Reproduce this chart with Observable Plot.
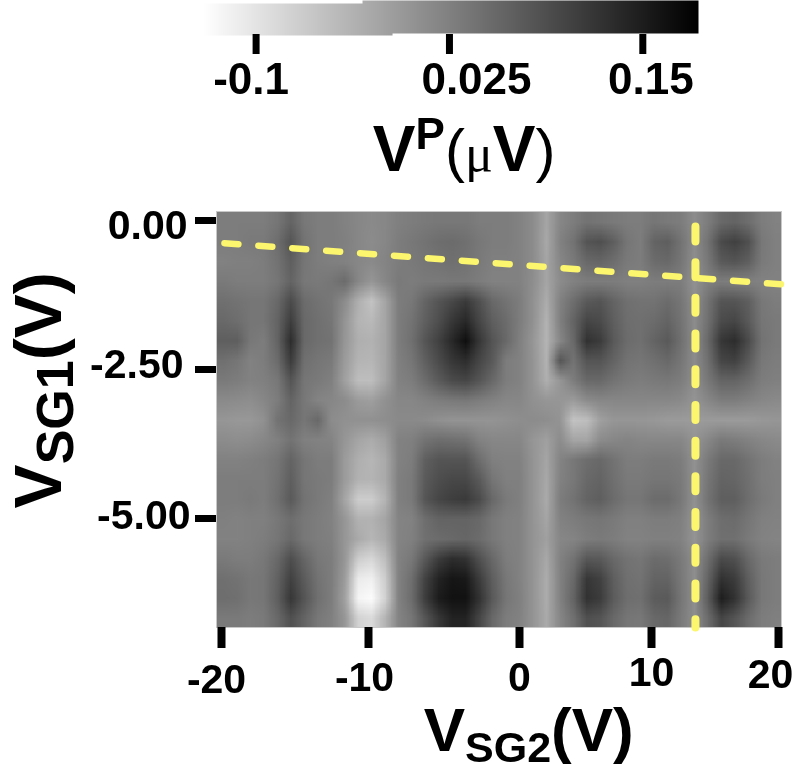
<!DOCTYPE html>
<html>
<head>
<meta charset="utf-8">
<script src="https://cdn.jsdelivr.net/npm/d3@7"></script>
<script src="https://cdn.jsdelivr.net/npm/@observablehq/plot@0.6"></script>
<style>
html,body{margin:0;padding:0;background:#fff;}
svg{display:block;filter:blur(0.55px);}
</style>
</head>
<body>
<div id="chart"></div>
<script>
// Values
const gridColumns = 42;
const vpThousandths = [
[29,29,29,29,38,60,35,29,29,23,17,13,17,25,29,33,35,35,35,29,29,29,23,10,-21,17,29,42,38,33,29,29,38,33,29,10,29,54,60,48,29,23],
[29,29,33,33,48,79,42,29,29,25,17,10,17,29,35,42,48,50,45,35,29,29,23,10,-25,23,42,79,86,67,38,29,60,67,42,10,42,92,104,86,35,25],
[23,25,25,29,42,67,38,29,25,23,17,13,20,29,33,38,42,45,42,33,25,25,23,10,-21,17,33,54,58,48,33,29,50,54,38,8,35,73,79,67,33,25],
[33,29,29,29,38,60,35,33,38,50,17,-2,17,33,29,33,33,35,35,29,23,23,23,8,-21,10,23,29,29,29,25,25,29,29,29,4,25,29,25,25,23,23],
[45,42,38,38,54,92,50,42,35,10,-34,-59,-21,29,35,60,79,96,113,86,54,42,29,4,-30,23,48,73,79,60,45,42,42,50,38,8,42,79,79,67,35,29],
[54,48,38,38,60,108,54,45,38,0,-40,-46,-21,29,42,67,88,117,136,98,67,50,29,4,-37,25,60,98,92,67,48,45,50,60,42,10,45,92,98,73,38,33],
[67,67,35,29,60,130,54,45,42,-2,-34,-37,-21,29,45,79,104,136,167,117,79,54,25,-2,-40,17,54,123,111,73,50,45,60,73,45,10,54,117,130,92,42,33],
[45,38,23,29,50,111,45,38,33,-9,-40,-42,-21,25,38,67,92,117,130,98,73,29,23,0,-37,79,42,79,79,60,42,38,45,54,38,10,45,98,104,73,35,29],
[33,29,23,25,35,79,38,33,25,-15,-52,-52,-21,23,29,50,73,92,98,79,54,29,23,0,-34,-2,29,54,54,42,33,29,33,35,29,8,35,60,60,48,29,25],
[13,10,8,17,29,60,35,20,17,10,-9,-13,4,17,17,23,29,33,35,29,23,17,17,4,-2,-2,-9,10,17,17,17,17,17,17,13,0,17,29,29,23,17,13],
[-2,-5,-5,4,42,54,38,54,10,4,4,4,8,13,13,10,4,0,0,0,0,4,8,10,8,0,-59,-52,-15,-2,-2,-2,-5,-9,-9,-9,-9,-9,-9,-9,-5,-2],
[10,8,10,17,25,42,25,23,20,-2,-21,-30,-15,23,25,42,48,45,42,23,17,17,17,-2,-15,10,-21,-21,10,17,20,17,17,17,17,0,17,33,29,23,17,13],
[23,23,25,29,38,60,38,29,29,-9,-34,-42,-27,23,29,67,79,79,79,48,25,23,23,0,-21,20,35,48,54,42,29,29,33,33,29,4,33,54,54,42,29,23],
[29,29,29,29,42,67,38,33,29,-9,-37,-40,-27,25,33,73,88,96,96,73,38,25,25,0,-25,23,35,54,60,45,33,33,38,38,33,4,38,60,58,45,29,25],
[29,29,33,29,45,73,42,33,25,-21,-71,-71,-40,25,33,79,98,108,113,92,54,33,25,0,-27,29,42,60,67,50,38,38,50,50,35,4,42,67,67,48,33,25],
[25,23,25,25,35,48,35,29,23,-2,-37,-37,-21,20,23,48,60,60,60,54,35,25,23,0,-21,23,29,35,38,33,25,25,29,29,25,0,29,48,50,38,25,23],
[23,23,25,29,38,54,35,29,25,-2,-27,-42,-27,20,25,45,50,54,58,50,35,25,23,0,-15,17,20,29,33,29,23,23,25,25,23,0,29,45,45,33,23,20],
[33,29,29,35,54,88,58,35,29,-2,-71,-84,-52,23,35,76,111,130,123,86,54,29,23,0,-25,23,42,76,73,54,42,38,50,48,33,8,48,92,86,54,33,29],
[45,42,35,38,63,104,71,42,29,-9,-109,-115,-71,23,48,104,142,158,155,111,67,35,23,0,-30,23,54,117,104,67,45,42,60,60,35,8,60,123,111,67,35,29],
[48,45,35,38,67,117,79,45,29,-15,-121,-130,-78,23,50,111,151,163,163,123,73,38,25,0,-30,23,60,123,111,71,48,45,71,73,38,8,71,148,123,73,35,29],
[33,33,29,33,54,86,60,35,25,-2,-78,-88,-40,20,38,79,117,142,142,98,54,29,23,0,-27,17,45,86,79,54,38,35,54,58,33,8,50,98,79,50,29,25]
];
const xTicks = [-20, -10, 0, 10, 20];
const xTickLabels = ["-20", "-10", "0", "10", "20"];
const yTicks = [0, -2.5, -5];
const yTickLabels = ["0.00", "-2.50", "-5.00"];
const barTicks = [-0.1, 0.025, 0.15];
const barTickLabels = ["-0.1", "0.025", "0.15"];
const verticalCut = [{x: 13.46, y: -0.1}, {x: 13.46, y: -6.83}];
const slantedCut = [{x: -19.8, y: -0.38}, {x: 20.24, y: -1.07}];

// Layout and style
const FONT = "Liberation Sans";
const BAR_H = 190, W = 798, H = 581;
const vpRange = [-0.134, 0.186];
const color = {type: "linear", domain: vpRange, range: ["#ffffff", "#000000"]};
const xNudge = [[-5, 2], [-4, 0], [0, 0], [0, -5], [-8, -3]];
const yNudge = [[-7, 5], [-11, -5], [-4, -3]];
const barNudge = [[-5, 0], [27, 0], [8, 0]];
const axisFont = {fontFamily: FONT, fontWeight: "bold", fontSize: 41, fill: "black"};
// the printed x axis has unevenly spaced ticks: a piecewise map sits in front of the x scale
const xPosition = d3.scaleLinear().domain(xTicks).range([221, 368, 519, 651, 778]);
const xEnds = [-20.34, 20.24];

function richText(parts) {
  return function (index, scales, values, dims, ctx, next) {
    const g = next(index, scales, values, dims, ctx);
    const t = g.querySelector("text");
    t.textContent = "";
    let prev = 0;
    for (const p of parts) {
      const ts = document.createElementNS("http://www.w3.org/2000/svg", "tspan");
      ts.textContent = p.text;
      ts.setAttribute("font-size", p.size);
      ts.setAttribute("font-weight", p.weight || "bold");
      ts.setAttribute("font-family", p.family || FONT);
      ts.setAttribute("dy", (p.shift || 0) - prev);
      prev = p.shift || 0;
      t.append(ts);
    }
    return g;
  };
}

const barPlot = Plot.plot({
  width: W, height: BAR_H,
  marginLeft: 203, marginRight: 100, marginTop: 0, marginBottom: 156,
  x: {domain: vpRange, range: [203, 698], axis: null},
  y: {domain: [0, BAR_H], range: [0, BAR_H], axis: null},
  color,
  marks: [
    Plot.raster({x1: vpRange[0], x2: -0.0118, y1: 3, y2: 35, fill: (x) => x, pixelSize: 1, imageRendering: "auto"}),
    Plot.raster({x1: -0.0312, x2: vpRange[1], y1: 0, y2: 33, fill: (x) => x, pixelSize: 1, imageRendering: "auto"}),
    Plot.axisX(barTicks, {tickSize: 20, strokeWidth: 7, stroke: "black", text: null, label: null}),
    ...barTicks.map((t, i) => Plot.axisX([t], {
      tickSize: 0, tickPadding: 28, label: null, dx: barNudge[i][0], dy: barNudge[i][1],
      tickFormat: () => barTickLabels[i], ...axisFont, fontSize: 44
    })),
    Plot.text(["VP(µV)"], {
      x: () => 0.0345, y: () => 170, textAnchor: "middle", lineAnchor: "bottom",
      fontFamily: FONT, fontWeight: "bold", fill: "black",
      render: richText([
        {text: "V", size: 64},
        {text: "P", size: 44, shift: -22},
        {text: "(", size: 60, weight: "normal"},
        {text: "\u03bc", size: 52, weight: "normal", family: "Liberation Serif"},
        {text: "V", size: 64},
        {text: ")", size: 60, weight: "normal"}
      ])
    })
  ]
});

const mainPlot = Plot.plot({
  width: W, height: H,
  marginLeft: 216, marginRight: 17, marginTop: 21, marginBottom: 144,
  x: {domain: xEnds.map(xPosition), range: xEnds.map(xPosition), axis: null},
  y: {domain: [0, -5], range: [30, 328], axis: null},
  color,
  marks: [
    Plot.raster(vpThousandths.flat().map((v) => v / 1000), {
      width: gridColumns, height: vpThousandths.length, fill: Plot.identity,
      x1: xPosition(xEnds[0]), x2: xPosition(xEnds[1]), y1: 0.15, y2: -6.83, imageRendering: "auto"
    }),
    Plot.frame({stroke: "#c8c8c8", strokeWidth: 1}),
    Plot.line(slantedCut, {x: (d) => xPosition(d.x), y: "y", stroke: "#fbf66e", strokeWidth: 6.5, strokeDasharray: "14 20"}),
    Plot.line(verticalCut, {x: (d) => xPosition(d.x), y: "y", stroke: "#fbf66e", strokeWidth: 8, strokeDasharray: "15 20.7"}),
    Plot.axisX(xTicks.map(xPosition), {tickSize: 21, strokeWidth: 8, stroke: "black", text: null, label: null}),
    ...xTicks.map((t, i) => Plot.axisX([xPosition(t)], {
      tickSize: 0, tickPadding: 34, label: null, dx: xNudge[i][0], dy: xNudge[i][1],
      tickFormat: () => xTickLabels[i], ...axisFont
    })),
    Plot.axisY(yTicks, {tickSize: 21, strokeWidth: 7, stroke: "black", text: null, label: null}),
    ...yTicks.map((t, i) => Plot.axisY([t], {
      tickSize: 0, tickPadding: 22, label: null, dx: yNudge[i][0], dy: yNudge[i][1],
      tickFormat: () => yTickLabels[i], ...axisFont
    })),
    Plot.text(["VSG2(V)"], {
      x: () => xPosition(0.7), frameAnchor: "bottom", dy: 123, textAnchor: "middle", lineAnchor: "bottom",
      fontFamily: FONT, fontWeight: "bold", fill: "black",
      render: richText([
        {text: "V", size: 62},
        {text: "SG2", size: 43, shift: 11},
        {text: "(V)", size: 62}
      ])
    }),
    Plot.text(["VSG1(V)"], {
      y: () => -2.85, frameAnchor: "left", dx: -156, rotate: -90, textAnchor: "middle", lineAnchor: "bottom",
      fontFamily: FONT, fontWeight: "bold", fill: "black",
      render: richText([
        {text: "V", size: 66},
        {text: "SG1", size: 52, shift: 12},
        {text: "(V)", size: 66}
      ])
    })
  ]
});

document.getElementById("chart").append(barPlot, mainPlot);
</script>
</body>
</html>
